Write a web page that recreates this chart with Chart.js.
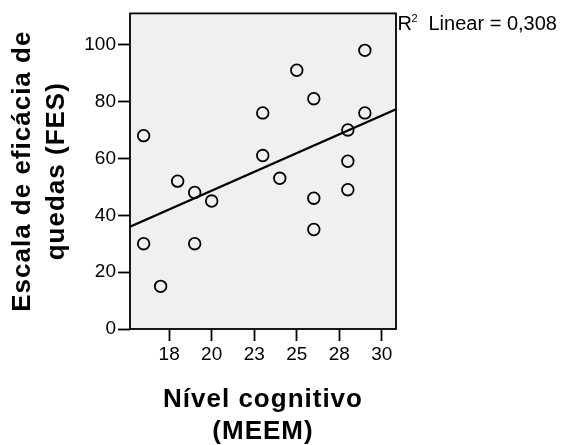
<!DOCTYPE html>
<html><head><meta charset="utf-8">
<script src="https://cdn.jsdelivr.net/npm/chart.js@4/dist/chart.umd.min.js"></script>
<style>html,body{margin:0;padding:0;background:#fff}#wrap{width:562px;height:445px}</style>
</head><body><div id="wrap"><canvas id="c" width="562" height="445"></canvas></div>
<script>
// ---- data ----
const meemValues = [16,18,23,23,25,24,26,28,29,29,28,19,20,16,19,17,26,26,28];
const fesValues  = [68,52,76,61,91,53,81,70,98,76,59,48,45,30,30,15,46,35,49];
const xTickValues = [17.5,20,22.5,25,27.5,30];
const xTickLabels = ['18','20','23','25','28','30'];
const yTickValues = [0,20,40,60,80,100];
const yTickLabels = ['0','20','40','60','80','100'];
const xTitle = ['Nível cognitivo','(MEEM)'];
const yTitle = ['Escala de eficácia de','quedas (FES)'];
const fitLabelPrefix = 'Linear = ';

const X_MIN = 15.2, X_MAX = 30.83, Y_MIN = 0, Y_MAX = 111;

// least squares fit from the data
const n = meemValues.length;
const mx = meemValues.reduce((a,b)=>a+b,0)/n;
const my = fesValues.reduce((a,b)=>a+b,0)/n;
let sxx=0, sxy=0, syy=0;
for (let i=0;i<n;i++){const dx=meemValues[i]-mx, dy=fesValues[i]-my; sxx+=dx*dx; sxy+=dx*dy; syy+=dy*dy;}
const slope = sxy/sxx, intercept = my - slope*mx;
const r2 = (sxy*sxy)/(sxx*syy);
const r2Text = r2.toFixed(3).replace('.', ',');

const points = meemValues.map((x,i)=>({x, y: fesValues[i]}));
const fitLine = [X_MIN, X_MAX].map(x=>({x, y: intercept + slope*x}));

const FONT = 'Liberation Sans, Arial, sans-serif';

const plotFrame = {
  id:'plotFrame',
  beforeDraw(chart){
    const {ctx, chartArea:a} = chart;
    ctx.save(); ctx.fillStyle='#f0f0f0';
    ctx.fillRect(a.left, a.top, a.right-a.left, a.bottom-a.top);
    ctx.restore();
    Object.values(chart.scales).forEach(s=>{
      if (!s._lsPatched){
        const orig = s.drawTitle;
        s.drawTitle = function(){ const c=this.ctx; c.save(); c.letterSpacing='1px'; orig.apply(this, arguments); c.restore(); };
        s._lsPatched = true;
      }
    });
  },
  afterDraw(chart){
    const {ctx, chartArea:a} = chart;
    ctx.save();
    ctx.strokeStyle='#000'; ctx.lineWidth=1.8;
    ctx.strokeRect(a.left, a.top, a.right-a.left, a.bottom-a.top);
    // R² label
    ctx.fillStyle='#000'; ctx.textBaseline='alphabetic'; ctx.textAlign='left';
    const x0 = a.right + 1.5, base = a.top + 16.5;
    ctx.font = '20px ' + FONT;
    ctx.fillText('R', x0, base);
    const wR = ctx.measureText('R').width;
    ctx.font = '11px ' + FONT;
    ctx.fillText('2', x0 + wR - 0.5, base - 7.5);
    ctx.font = '20px ' + FONT;
    ctx.fillText(fitLabelPrefix + r2Text, x0 + 31, base);
    ctx.restore();
  }
};

new Chart(document.getElementById('c'), {
  type:'scatter',
  data:{datasets:[
    {type:'line', data: fitLine, borderColor:'#000', borderWidth:2.4, pointRadius:0, fill:false, tension:0},
    {data: points, showLine:false, pointRadius:5.8, pointBorderWidth:1.8, pointBackgroundColor:'rgba(0,0,0,0)', pointBorderColor:'#000'}
  ]},
  options:{
    responsive:false, animation:false, events:[],
    layout:{padding:{top:12,right:166,bottom:0,left:0}},
    plugins:{legend:{display:false}, tooltip:{enabled:false}},
    scales:{
      x:{type:'linear', min:X_MIN, max:X_MAX,
        afterBuildTicks:s=>{ s.ticks = xTickValues.map(v=>({value:v})); },
        afterFit:s=>{ s.height = 116; },
        ticks:{callback:(v,i)=>xTickLabels[i], font:{family:FONT,size:19}, color:'#000', padding:2, maxRotation:0, autoSkip:false},
        grid:{display:true, drawOnChartArea:false, drawTicks:true, tickLength:12, tickWidth:1.8, tickColor:'#000'},
        border:{display:false},
        title:{display:true, text:xTitle, color:'#000', font:{family:FONT,size:26,weight:'bold',lineHeight:1.2}, padding:{top:0,bottom:-2}}
      },
      y:{type:'linear', min:Y_MIN, max:Y_MAX,
        afterBuildTicks:s=>{ s.ticks = yTickValues.map(v=>({value:v})); },
        afterFit:s=>{ s.width = 130; },
        ticks:{callback:(v,i)=>yTickLabels[i], font:{family:FONT,size:19}, color:'#000', padding:2, autoSkip:false},
        grid:{display:true, drawOnChartArea:false, drawTicks:true, tickLength:12, tickWidth:1.8, tickColor:'#000'},
        border:{display:false},
        title:{display:true, text:yTitle, color:'#000', font:{family:FONT,size:26,weight:'bold',lineHeight:1.3}, padding:{top:6,bottom:0}}
      }
    }
  },
  plugins:[plotFrame]
});
</script>
</body></html>
